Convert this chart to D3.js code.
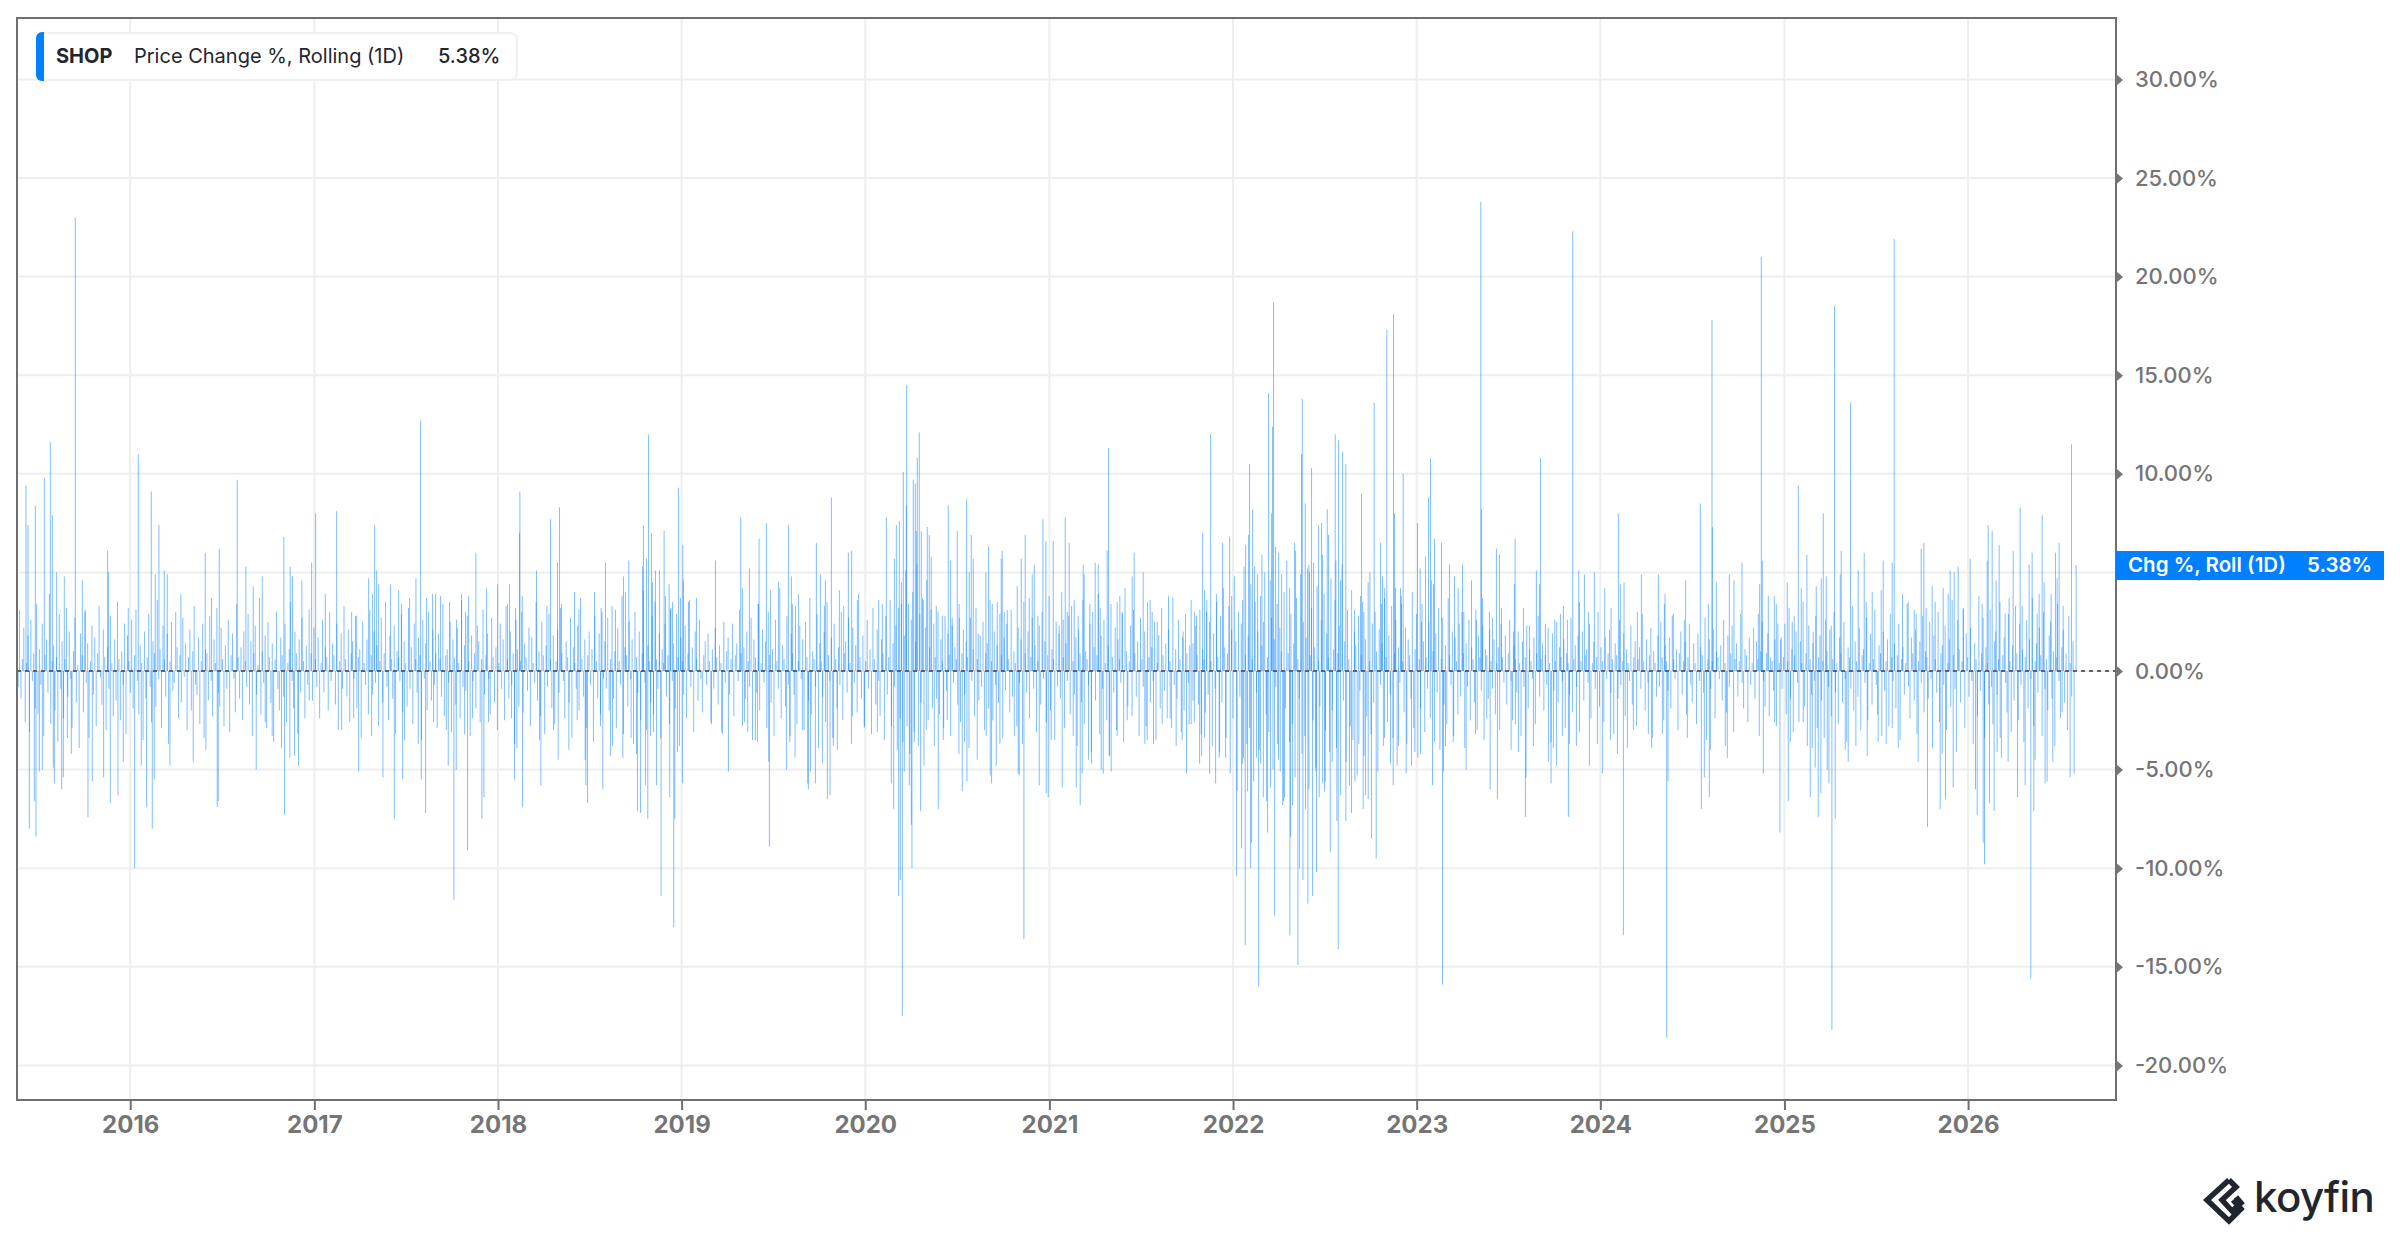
<!DOCTYPE html>
<html><head><meta charset="utf-8">
<script src="https://cdn.jsdelivr.net/npm/d3@7/dist/d3.min.js"></script>
<style>html,body{margin:0;padding:0;background:#fff}svg{display:block}text{font-family:Inter,"Noto Sans",sans-serif}</style>
</head><body><svg id="c" width="2400" height="1240"></svg>
<script>
const ticker="SHOP", seriesName="Price Change %, Rolling (1D)", lastLabel="5.38%", tagName="Chg %, Roll (1D)";
const yTicks=[-20,-15,-10,-5,0,5,10,15,20,25,30];
const spanUnits=900; // each reading span below is divided into 900 time units
const spanStarts=["2015-05-19","2016-12-24","2018-07-31","2020-03-06","2021-10-12","2023-05-19","2024-12-23"];
const spanEnds=["2017-01-04","2018-08-12","2020-03-18","2021-10-23","2023-05-31","2025-01-04","2026-08-11"];
// notable daily moves: [time unit within span, % change]
const peaks0=[[3,10.3],[30,9.4],[36,7.4],[58,8.4],[85,9.8],[103,11.6],[109,7.9],[122,5],[145,4.8],[178,23],[199,4.6],[208,3.1],[275,6.1],[278,5],[337,3.2],[367,11],[406,9.1],[418,4.9],[429,7.4],[445,5.1],[454,4.9],[495,3.9],[568,6],[587,3.7],[610,6.2],[664,9.7],[690,5.3],[712,4.3],[739,4.8],[804,6.8],[823,5.3],[830,4.8],[858,4.6],[3,-7.3],[40,-8],[55,-6.6],[60,-8.4],[70,-5.1],[79,-5],[112,-4.9],[115,-5.7],[137,-6],[142,-5.4],[154,-3.4],[166,-4.2],[216,-7.4],[229,-5.6],[263,-5.4],[283,-6.7],[306,-6.3],[322,-4.6],[356,-10],[376,-4.8],[392,-6.9],[409,-8],[415,-5.5],[462,-4.8],[532,-4.6],[570,-4],[604,-6.9],[607,-6.6],[721,-5],[748,-2.6],[769,-3.3],[797,-3.9],[806,-7.3],[822,-4.4],[836,-4.3],[848,-4.8],[880,-1.5]];
const peaks1=[[4,5.5],[16,8],[45,3.9],[79,8.1],[124,3],[139,2.8],[175,4.7],[187,3.9],[193,7.4],[199,5.1],[205,4.4],[241,4.4],[265,4.1],[274,3.4],[298,3.7],[317,4.7],[331,12.7],[349,3.7],[367,3.9],[376,3.9],[391,3.8],[418,3.5],[439,2.6],[454,3.9],[466,3],[475,3.8],[497,6],[529,4.2],[562,4.4],[592,3.4],[598,4.4],[616,3.2],[628,7],[629,9.1],[636,3.8],[679,5.1],[710,3.3],[721,7.7],[742,5.5],[748,8.3],[754,3.4],[793,4],[806,3.1],[853,4],[873,3.2],[94,-3],[130,-2.4],[145,-5.1],[184,-3.3],[218,-5.4],[252,-7.5],[277,-5.5],[283,-3.5],[324,-3.7],[333,-5.5],[346,-7.2],[370,-2.6],[408,-3],[414,-4.8],[431,-11.6],[438,-5],[463,-3.2],[472,-9.1],[487,-2.4],[515,-7.5],[521,-6.4],[535,-2.6],[604,-2.4],[613,-5.5],[620,-3.9],[637,-6.9],[688,-3.5],[692,-5.8],[730,-3],[744,-4.5],[776,-4],[801,-2.5],[825,-4.5],[827,-5.8],[832,-6.7],[871,-2.8],[878,-6]];
const peaks2=[[4,5.5],[34,3.1],[58,4.8],[64,4],[74,5.6],[115,5.3],[118,7.4],[127,5.7],[133,12],[142,7],[145,4.5],[154,5.1],[166,5.1],[180,7.1],[184,3.8],[195,4.4],[199,3.1],[205,3.5],[223,9.3],[229,3.7],[236,6.4],[238,4.6],[253,3.5],[277,3.7],[334,5.6],[410,7.8],[415,4.2],[436,5.2],[465,6.7],[463,3.4],[487,7.5],[499,4.1],[523,4.5],[553,7.4],[562,4.8],[565,3.4],[583,3.9],[637,6.5],[649,4.9],[664,4.6],[661,3.3],[682,8.8],[706,4.1],[719,3.3],[733,6],[743,6.1],[760,3.6],[824,3.6],[835,3.4],[847,7.8],[871,5.7],[877,7.4],[19,-4.3],[25,-3.8],[56,-4.4],[81,-3.4],[97,-4.2],[100,-7.1],[109,-7.2],[124,-5.8],[131,-7.5],[139,-3.3],[148,-3.1],[157,-5.8],[171,-11.4],[197,-6.4],[209,-13],[212,-7.5],[220,-4.1],[235,-5.7],[322,-2.7],[353,-3.1],[373,-5.1],[421,-2.6],[431,-3.1],[454,-3.5],[460,-3.6],[494,-4.6],[496,-8.9],[547,-5],[558,-3.3],[573,-4.4],[595,-3],[611,-5.7],[613,-6],[619,-5.1],[634,-5.7],[655,-4.7],[670,-6.5],[678,-6.3],[688,-3.8],[700,-4],[745,-2.3],[781,-2.8],[820,-3.1],[862,-5.7],[869,-7]];
const peaks3=[[4,7.6],[10,3.4],[16,10.1],[26,14.5],[25,8.4],[46,9.7],[52,9.5],[58,10.8],[64,12.1],[70,7.1],[55,7.1],[76,3.6],[88,7.3],[94,6.9],[100,5.8],[115,3.3],[133,2.8],[151,8.4],[158,5.6],[163,2.7],[178,7.1],[184,2.7],[206,8.7],[214,5],[220,6.9],[226,5.7],[241,1.9],[264,5],[272,6.3],[283,3.4],[298,3.5],[310,5.7],[313,6.1],[319,3],[328,3.1],[358,4.3],[370,5.7],[382,6.9],[394,3.7],[403,4.9],[409,5.4],[420,2.8],[435,7.7],[444,6.6],[466,6.6],[484,2.3],[496,2.6],[502,7.8],[508,3],[514,6.5],[529,3.6],[541,2.8],[556,5.4],[559,4.9],[576,3.4],[592,5.5],[601,5.4],[607,3.2],[628,6.1],[632,11.3],[658,3.5],[666,3.8],[673,3],[703,4.8],[709,6],[736,5],[757,3.6],[763,3],[778,2.5],[812,3.8],[856,2],[880,3.6],[2,-11.4],[7,-10.6],[13,-17.5],[19,-5.1],[34,-5.8],[40,-7.8],[42,-10],[49,-3.6],[68,-7.1],[85,-3],[109,-3.8],[121,-7],[136,-3.5],[148,-2.5],[183,-4.2],[193,-6.1],[200,-3.6],[207,-5.6],[238,-4.5],[265,-3.3],[277,-5.3],[281,-5.7],[295,-4.8],[306,-3.7],[349,-3.3],[361,-5.2],[364,-5.3],[378,-13.6],[424,-5.8],[445,-6.2],[451,-6.4],[460,-3.5],[493,-5.9],[526,-3.3],[535,-5.9],[547,-6.8],[553,-5.2],[572,-4.5],[581,-4.7],[610,-5],[616,-5.2],[634,-4.3],[640,-5.1],[658,-3.3],[688,-2.5],[741,-3.7],[748,-3.5],[767,-3.7],[793,-2.7],[817,-2.4],[835,-3.8],[853,-3.5],[866,-5.2],[874,-2.7]];
const peaks4=[[7,3],[13,2.8],[31,7],[37,4.1],[43,3],[55,12],[73,3.5],[91,6.5],[112,6.8],[118,3.8],[151,3.6],[160,6.4],[169,6.9],[172,10.5],[181,8.2],[187,5.3],[196,4.9],[209,5.9],[214,2.5],[229,14.1],[238,8],[241,12.4],[244,18.7],[250,6.3],[259,6],[268,4.9],[292,4.2],[307,6.5],[310,6.1],[328,11],[330,13.8],[339,8.5],[350,5.4],[352,5],[358,10.3],[364,5.5],[379,7.4],[388,7.5],[391,5.9],[405,8.2],[409,6.9],[429,12],[431,5.6],[439,11.7],[445,4.6],[451,11.1],[461,10.5],[487,3.1],[505,3.8],[508,9],[515,3],[533,5],[546,13.6],[565,6.5],[568,3.4],[571,4.8],[577,3.7],[584,17.3],[604,18.1],[607,8],[610,4.2],[625,4.2],[628,3.4],[633,10],[676,7.5],[684,5.2],[688,2.5],[700,5.8],[709,8.8],[715,10.8],[724,4.4],[727,6.7],[748,6.5],[772,5.4],[787,4.8],[798,4.2],[811,5.4],[815,3],[838,4.6],[853,2.6],[866,23.8],[868,8.2],[871,3.7],[2,-1.5],[22,-4.7],[28,-4.3],[37,-3.4],[52,-5.2],[70,-5.7],[82,-4.1],[100,-4.4],[133,-10.4],[148,-9],[154,-4.4],[159,-13.9],[166,-6.1],[175,-10],[178,-8.7],[193,-4.4],[199,-16],[205,-4.7],[226,-8.2],[223,-6.6],[235,-5.9],[247,-12.4],[256,-3.7],[264,-5.1],[274,-6.6],[277,-6.4],[293,-13.4],[295,-8.4],[301,-6.8],[317,-14.9],[322,-10],[332,-10.6],[340,-7],[347,-11.8],[361,-11.4],[373,-10.2],[371,-5.1],[381,-6.4],[397,-6.1],[399,-5.6],[414,-9.2],[420,-4.6],[438,-14.1],[434,-7.6],[461,-7.6],[472,-5.8],[478,-7.2],[488,-5.6],[500,-3.7],[513,-7],[520,-6.3],[528,-6.5],[538,-8.5],[552,-9.5],[577,-3.4],[595,-4.7],[603,-5.8],[619,-3.8],[642,-5.2],[658,-4.8],[668,-4.1],[685,-4.2],[721,-5.8],[751,-15.9],[754,-5.1],[760,-3.8],[783,-3.6],[822,-5],[850,-3.2]];
const peaks5=[[10,3],[19,2.7],[31,6.2],[40,5.9],[46,3.2],[82,2],[85,4.4],[87,6.7],[112,3.2],[130,2.3],[151,5.1],[160,4.4],[163,10.8],[178,2.4],[206,2.6],[223,2.9],[232,3.3],[244,2.6],[260,22.3],[278,5.1],[280,3.5],[295,4.9],[307,3],[325,5],[356,4.2],[375,3.2],[397,8],[403,4.4],[414,4.5],[454,3],[466,4.9],[517,4.9],[535,3.4],[537,3.9],[562,2.9],[595,2.6],[599,4.6],[643,8.5],[667,3.4],[678,17.8],[679,7.3],[691,4.5],[730,4.9],[744,4.6],[768,5.5],[817,2.9],[821,4.4],[826,21],[829,5.6],[847,3.8],[865,3.8],[871,3.4],[2,-2.4],[12,-6],[34,-6.5],[75,-4],[88,-2.7],[97,-4.1],[118,-7.4],[120,-5.4],[142,-3.8],[187,-4.6],[195,-5.7],[202,-3.9],[211,-4.8],[229,-3.3],[247,-7.4],[250,-3.7],[271,-3.8],[310,-4.8],[334,-3.7],[349,-5.2],[373,-3.5],[394,-4.2],[412,-13.4],[424,-3.9],[442,-3],[487,-3.2],[497,-3.9],[529,-3.2],[542,-18.6],[546,-5.6],[604,-3.4],[646,-7],[655,-5.4],[670,-6.4],[673,-4],[718,-3.8],[724,-4.4],[832,-5.2],[866,-2.6]];
const peaks6=[[4,1.7],[22,4.5],[37,2.5],[43,2.8],[55,9.4],[64,4.2],[81,5.9],[100,2],[109,4.3],[124,4.7],[130,8],[139,4.8],[154,2.3],[164,18.5],[181,4.9],[184,6.1],[212,13.6],[235,5.1],[253,6],[259,3.5],[277,4],[304,4.1],[310,5.6],[337,5.5],[343,21.9],[368,3.9],[385,3.5],[403,3.1],[409,2.9],[424,6.2],[432,6.5],[439,3.2],[457,4.3],[466,3.5],[490,4.2],[505,3.9],[511,5.1],[523,5],[535,5.3],[550,3.1],[571,5.7],[607,3.4],[622,5.6],[625,7.4],[637,7.1],[649,4.6],[658,6.4],[676,2.9],[688,3.7],[700,6.1],[721,8.3],[727,3.3],[748,5.4],[757,6],[772,2.9],[778,3.9],[787,7.9],[793,4.5],[814,3.9],[827,6],[832,4.7],[838,6.5],[850,3.3],[875,11.5],[889,5.38],[0,-8.2],[25,-6.6],[31,-3.6],[70,-2.6],[91,-6.4],[97,-3.9],[106,-4.9],[115,-7.4],[123,-6.2],[142,-5],[147,-5.7],[156,-18.2],[166,-7.5],[196,-4],[205,-4.6],[228,-3.8],[262,-4.3],[295,-3.6],[319,-3.7],[337,-2.9],[355,-3.9],[415,-4.6],[443,-7.9],[481,-7],[487,-4.2],[497,-6.5],[520,-5.9],[587,-6],[592,-7.3],[610,-8.7],[614,-9.8],[629,-6.7],[643,-7.1],[652,-4.1],[661,-3.4],[685,-4.6],[713,-6.4],[736,-5.8],[753,-15.6],[762,-7.1],[766,-4.5],[796,-5.7],[802,-5.6],[819,-4.6],[847,-2.1],[871,-5.4],[883,-5.2]];
// ordinary sessions, estimated in date order across each span
const body0=[1.2,-.8,3.1,-1.4,.6,2.2,-2.6,.4,1.8,-3.1,2.6,-.5,.9,-1.9,3.4,-2.2,1.1,-.7,2.4,-3.3,.8,1.6,-1.1,3.9,-2.7,.5,1.3,-2,.7,-3.6,2.9,-.9,1.5,-2.4,.6,3.2,-1.3,2,-.4,-2.9,1,2.7,-1.6,.3,-3.9,1.9,.8,-2.1,3,-.6,1.4,-3.4,.5,2.3,-1.2,1.7,-2.8,.9,3.3,-.3,-1.7,2.1,.7,-3,1.2,-.9,2.8,.4,-2.3,1.6,-1.5,3.5,.6,-2.5,1,-.7,2.4,-3.2,1.8,.5,-1.1,2.6,-1.9,.8,3.1,-.5,-2.2,1.3,.4,-3.5,2,-1.4,.7,2.9,-.8,-2.6,1.5,.9,-1.8,3.6,-.4,1.1,-2.9,2.3,.6,-1.3,1.9,-3.7,.5,2.5,-1,-.6,3,1.2,-2.4,.8,-1.6,2.7,-.3,1.4,-3,.7,2.1,-2,1,3.3,-.7,-1.2,1.7,-2.7,.5,2.4,-3.4,1.1,.9,-1.5,2.8,-.5,-2.3,1.6,.4,3.2,-1.1,-1.8,2.2,.6,-2.8,1.3,-.9,2.6,-3.1,.8,1.9,-.4,-2.1,3.4,.7,-1.4,1.2,-2.5,2,.5,-.8,2.9,-1.7,1.5,-3.3,.9,2.3,-1.2,.3,3.7,-2.2,1,-.6,1.8,-2.9,2.5,.7,-1.6,1.4,-3.6,.6,3,-.9,-2,1.7,.8,-1.3,2.4,-2.6,.4,1.1,3.5,-.5,-1.9,2,.9,-3.2,1.6,-1.1,2.7,.5,-2.4,1.3,-.7,3.1];
const body1=[.9,-1.5,2.2,.6,-.8,1.7,-2.4,.4,2.6,-1.1,1.2,.7,-2,3,-.5,1.4,.8,-1.7,2.4,-3,.5,1.9,-.9,3.3,.6,-1.3,2.1,-2.6,.9,1.5,-.4,2.8,-1.9,.7,1.1,-3.4,2.5,.4,-.7,1.6,-2.2,3.1,.8,-1.2,2,-.6,1.3,-2.8,.5,2.7,-1.6,.9,3.5,-.8,-2.5,1.8,.6,-1.4,2.3,-3.2,1,.7,-.5,2.9,-2.1,1.5,.4,-1.8,3.2,-.9,1.2,-2.7,2.4,.6,-1.1,1.7,.8,-3.5,2.6,-.4,1.4,-2,3,.5,-1.5,2.1,-.7,.9,-2.9,1.9,.6,-1.3,3.4,-2.3,.8,1.1,-.6,2.5,-3.1,1.6,.7,-1.7,2.2,.4,-2.4,3.6,-.8,1.3,-1,2.8,.5,-3.3,1.8,-.5,.9,-1.9,2.3,1.5,-2.6,.6,3.1,-1.2,.8,1.9,-.4,-2.2,2.7,.7,-1.6,1.2,-3,.4,2.4,-.9,1.6,-2.5,3.3,.6,-1.4,2,-.7,.9,-3.7,2.6,1.1,-1.8,.5,3,-2.1,1.4,.7,-1,2.2,-2.8,1.7,.4,-.6,3.5,-1.5,1,-2.3,2.5,.8,-3.2,1.3,-.8,2.9,.6,-1.9,1.8,-2.7,.5,2.1,-1.1,3.2,.9,-.5,-2.4,1.5,.7,-1.6,2.7,-3.4,1.2,.4,-.9,2.3,-2,3.7,.6,-1.3,1.6,-2.9,.8,2,-.7,1.1,-3.6,2.8,.5,-1.4,1.9,-2.2,3,-.4];
const body2=[1.5,-.9,2.7,-2,.6,3.3,-1.4,1,-2.9,2.2,.5,-.7,3.8,-3.2,1.2,.8,-1.8,2.5,-.4,1.6,-3.7,3,.7,-1.1,2,-2.5,.9,4.1,-.6,-3,1.3,.5,-1.6,2.8,-2.2,3.5,.6,-.9,1.9,-3.4,1.1,.4,2.4,-1.3,.8,-2.7,3.2,-.5,1.4,-1.9,2.9,.7,-3.8,1.7,.5,-1.2,2.3,-2.4,.9,3.6,-.8,1.2,-3.1,2,.6,-1.5,2.6,-.4,-2.1,.8,1.5,-.7,1.9,.5,-2.6,1.1,-.9,2.2,.7,-1.7,1.3,.4,-3.2,2.5,-.6,1,1.7,-1.2,.6,2.4,-2.3,.8,1.4,-.5,3.1,.9,-2.8,1.2,-1.4,2,.5,-.8,2.7,-3.5,1.6,.7,-1.1,3.4,-2,.4,2.1,-.6,1.5,-2.9,3,.8,-1.6,1.1,-3.3,2.6,.5,-.9,4.2,-2.4,1.3,.6,-1.8,2.8,-.7,-3.6,1.9,.9,-1.2,3.3,-2.7,.5,2.3,-.4,1.6,-3,2.5,.7,-1.5,3.7,-2.2,1,.6,-.8,2.9,-3.9,1.4,.5,-1.3,2,-2.6,3.5,.8,-.5,1.7,-3.4,2.4,.6,-1.9,1.2,-.7,3,-2.5,.9,1.5,-1.1,2.7,.4,-3.7,2.2,-.6,1.3,-2.1,3.9,.7,-1.4,1.8,-2.9,.5,2.6,-.9,1.1,-3.2,3.2,.6,-1.7,2.1,-.5,-2.3,1.6,.9,-3.5,2.8,-1.2,.7,3.6,-2.8,1.4,-.8,2.3,-4];
const body3=[3.2,-2.4,4.5,-3.6,1.8,5.1,-2.8,3.4,-4.2,2.6,4,-3.1,1.5,5.4,-3.8,2.9,-1.6,3.7,-4.8,2.2,4.6,-2.5,1.2,3.1,-1.9,2.4,.7,-1.4,3,-2.2,1.6,.5,-2.9,2.8,-1,1.9,.8,-3.3,2.3,-.6,1.2,.6,-1.7,3.4,-2.6,.9,2.1,-1.2,1.5,.7,-3.9,2.7,-.5,1.1,-2.3,3.2,.6,-1.5,1.8,-.8,2.5,-3,.9,1.4,-1.9,3.6,.5,-2.5,2,-.7,1.3,-1.6,2.9,.8,-3.4,1.7,-1,2.4,.6,-2.1,3.1,-1.3,1,.4,-2.8,2.2,-.6,1.6,-3.7,3.5,.9,-1.1,2,-2.4,.7,2.7,-.9,1.3,-3.1,.5,2.3,-1.7,3,-.4,1.5,-2.6,.8,3.8,-2,1.1,.6,-3.5,2.5,-.8,1.9,-1.4,4,.7,-2.9,1.4,-.5,2.8,-2.2,3.3,.5,-1.2,1.7,-3.8,2.1,.9,-1.6,3.6,-2.7,1,.6,-.7,2.4,-4.1,3,1.2,-1.5,.8,3.9,-3.2,1.8,-.9,2.6,.4,-2.5,1.3,-4.3,3.4,.7,-1.1,2.2,-3,1.6,.6,-.6,2.9,-3.6,4.2,1,-1.8,.5,2.3,-2.3,3.1,.9,-1.3,1.5,-3.3,2.7,.6,-.8,2,-2.8,3.5,.7,-1.6,1.2,-.5,2.5,-3.5,.4,1.8,-1.9,3.2,.8,-1,1.4,-2.4,2.1,.5,-2.9,3.7,-.7,1.1,-1.4,2.6,.6,-3.1,1.7,-2,2.9,.9,-.6,1.3,-2.7];
const body4=[1.4,-2.6,2.3,.8,-1.7,3.1,-3.2,1.1,.6,-2.1,3.6,-1.2,2.5,.5,-3.8,1.9,-.9,3.9,.7,-4.4,2.8,-1.6,4.2,1.2,-3.4,.9,3.3,-5.2,2.1,-2.4,4.8,1.5,-6.1,3,-1.3,2.4,-4.7,5.3,.8,-3.7,1.8,-2.9,4.4,.6,-5.6,3.5,-1.1,2,-4,3.8,1.3,-6.4,5,-2.2,.7,-3.1,4.6,2.7,-5,1.6,-.8,3.4,-4.5,2.2,1,-6.8,4,-1.9,5.6,.9,-3.6,2.9,-2.7,1.4,-5.4,3.7,.6,-1.4,4.9,-4.2,2.5,-3.3,1.7,5.2,-6,.8,3.2,-2.5,1.2,-4.9,4.3,.5,-1.8,2.6,-5.7,3.9,-3,1.9,.7,-4.1,4.7,-2,1.1,3.6,-3.9,.9,2.3,-6.3,5.4,-1.5,1.5,-4.6,3.1,.6,-2.8,4.1,-3.5,2,1.3,-5.3,2.8,-1,.8,3.5,-4.3,1.6,-2.3,4.5,.5,-3.2,2.4,-1.6,3,1,-5.1,2.1,-.7,1.4,-3.8,4.2,.7,-2.6,1.8,-1.2,3.3,-3.4,.9,2.6,-4.8,1.2,-.6,3.8,.5,-2.1,2.2,-3.7,1.6,.8,-1.4,4,-2.9,1.1,2.9,-4.4,.6,-1.9,3.4,1.5,-3.1,.7,-.9,2.5,-2.4,4.6,1,-3.6,1.9,-1.1,3.2,-4,.6,2.7,-1.7,1.3,-2.7,3.7,.8,-.7,2,-3.3,1.7,.5,-2.2,2.4,-1.3,3,.9,-3.9,1.4,-.8,2.6,-2.5,1.2,.6,-1.6,3.1,-3,1.8,.7,-1,2.3,-3.5,1.1];
const body5=[.8,-1.4,2.1,.5,-.9,1.6,-2.2,.4,1.2,-3,2.4,.7,-.6,1.8,-1.7,.9,2.6,-.5,-2.5,1.3,.6,-1.1,2,.4,-3.3,1.5,-.8,.7,2.3,-1.9,1.1,.5,-.4,1.7,-2.7,.9,2.8,-1.3,.6,1.4,-2,.8,-.7,2.2,.4,-3.6,1.9,-1,.5,2.5,-1.6,1.2,.7,-.5,1.6,-2.9,.9,.4,-1.2,2.7,-2.1,.6,1.3,-.8,1.8,-3.1,.5,2,-1.5,.8,1.1,-.6,2.4,-2.4,.4,1.5,-.9,.7,3,-1.8,1.2,.5,-2.6,1.7,-.4,.9,2.1,-1.1,.6,-3.2,1.4,.8,-1.4,2.6,-.7,.5,1.9,-2.3,1.1,.4,-.5,2.3,-1.7,.7,1.5,-2.8,.6,1.2,-.9,2.9,.5,-2,1.6,-.6,.8,2.2,-3.4,1,.4,-1.3,1.8,-.8,2.5,.7,-2.5,1.3,.5,-1,1.7,-1.9,2.8,.6,-.4,1.1,-3,.9,2,-1.2,.5,1.5,-2.2,.7,2.4,-.7,-1.6,1.4,.4,-2.7,1.9,-.5,1.2,.8,-1.1,2.7,-3.5,.6,1.6,-.9,.5,2.1,-2.4,1,.7,-.4,1.3,-1.5,2.6,.4,-2.1,1.8,-.8,.9,2.3,-3.1,.6,1.4,-1.3,.5,2.9,-.6,-1.9,1.1,.8,-2.6,1.7,-.7,.4,2.2,-1.4,1.5,.6,-3.3,1,2.5,-.5,-1.8,.9,1.9,-2.3,.7,.5,-1,1.6,-2.8,2.4,.4];
const body6=[1.6,-.9,.7,2.4,-2.2,.5,3.2,-1.4,1.1,-3.1,.8,2,-.6,-2.6,1.5,.4,3.5,-1.8,.9,-3.8,2.3,.6,-1.2,1.4,-.5,2.8,-2.9,.7,1.8,-1.5,.5,-3.4,2.6,1,-.8,2.1,-2.3,.6,3,-1.1,.4,-2.7,1.7,.9,-1.6,2.5,-.4,-3.6,1.2,.7,-.9,3.3,-2,1.5,.5,-1.3,2.2,-3,.8,1.1,-.6,2.7,-2.5,.4,1.9,-1.7,.6,3.1,-.7,-2.2,1.3,.9,-3.3,2,-1,.5,1.6,-2.8,2.9,.7,-.5,1.4,-1.9,.8,2.4,-3.5,.6,1.2,-1.2,.4,3.4,-.8,-2.4,1.7,.9,-1.5,2.1,-3.2,.5,1.5,-.6,2.8,-2.1,1,.7,-1.4,2.5,-.4,-3.9,1.8,.6,-1.1,3,-2.6,.9,1.3,-.7,2.3,-3,.4,1.6,-1.8,3.6,.8,-.9,-4.1,2.6,1.1,-1.6,.5,3.2,-2.9,1.9,.7,-1.3,2.2,-.5,-3.7,1.4,.6,-2.3,3.8,-1,.9,2.7,-3.4,1.2,.4,-1.7,3.1,-.8,-2.7,1.5,2,-1.2,.6,3.5,-4.4,.8,1.7,-.6,-2.1,2.9,.5,-3.1,1.3,-1.5,3.3,.9,-2.5,2.4,-.7,1.1,-3.6,.7,2.6,-1.9,1.6,-.4,3.7,-2.8,.5,1.4,-1.1,2.2,.8,-3.3,3,-.9,.6,-2,1.8,2.5,-1.4,1,-3.8,.7,3.4,-.5,-2.4,1.2,2.1,-1.6,.9,-3,2.8,.4,-1.3,1.5];
const allPeaks=[peaks0,peaks1,peaks2,peaks3,peaks4,peaks5,peaks6];
const allBody=[body0,body1,body2,body3,body4,body5,body6];

const parse=d3.utcParse("%Y-%m-%d");
const starts=spanStarts.map(parse), ends=spanEnds.map(parse);
const x=d3.scaleUtc().domain([parse("2015-05-21"),parse("2026-10-22")]).range([17,2116]);
const y=d3.scaleLinear().domain([0,5]).range([671,572.4]);
const L=17,R=2116,T=18,B=1100;
const svg=d3.select("#c");
const at=(s,u)=>new Date(+starts[s]+(ends[s]-starts[s])*u/spanUnits);
const bars=[];
allBody.forEach((b,s)=>b.forEach((v,i)=>bars.push({d:at(s,(i+.5)/b.length*882),v})));
allPeaks.forEach((p,s)=>p.forEach(([u,v])=>bars.push({d:at(s,u),v})));
const years=d3.utcYear.range(parse("2016-01-01"),parse("2027-01-01"));

svg.append("defs").append("clipPath").attr("id","plot").append("rect").attr("x",L).attr("y",T).attr("width",R-L).attr("height",B-T);
const grid=svg.append("g").attr("stroke","#eeeeee").attr("stroke-width",2);
grid.selectAll(".h").data(yTicks).join("line").attr("x1",L).attr("x2",R).attr("y1",y).attr("y2",y);
grid.selectAll(".v").data(years).join("line").attr("x1",x).attr("x2",x).attr("y1",T).attr("y2",B);

svg.append("g").attr("clip-path","url(#plot)").attr("fill","#007fff").attr("fill-opacity",.5)
 .selectAll("rect").data(bars).join("rect")
 .attr("x",d=>x(d.d)-.5).attr("width",1)
 .attr("y",d=>y(Math.max(d.v,0))).attr("height",d=>Math.abs(y(d.v)-y(0)));

svg.append("line").attr("x1",L).attr("x2",R).attr("y1",y(0)).attr("y2",y(0))
 .attr("stroke","#5f6368").attr("stroke-width",2).attr("stroke-dasharray","4 4");

svg.append("rect").attr("x",L).attr("y",T).attr("width",R-L).attr("height",B-T).attr("fill","none").attr("stroke","#6f6f6f").attr("stroke-width",2);

// y axis
const yAxis=svg.append("g").attr("transform",`translate(${R},0)`)
 .call(d3.axisRight(y).tickValues(yTicks).tickSize(0).tickPadding(19).tickFormat(d=>d.toFixed(2)+"%"));
yAxis.select(".domain").remove();
yAxis.selectAll("text").attr("fill","#757575").attr("font-size",22).attr("font-weight",500);
yAxis.selectAll(".tick").append("path").attr("d","M0,-6L7,0L0,6Z").attr("fill","#757575");

// x axis
const xAxis=svg.append("g").attr("transform",`translate(0,${B})`)
 .call(d3.axisBottom(x).tickValues(years.slice(0,11)).tickSize(10).tickPadding(6).tickFormat(d3.utcFormat("%Y")));
xAxis.select(".domain").remove();
xAxis.selectAll("line").attr("stroke","#6f6f6f").attr("stroke-width",2);
xAxis.selectAll("text").attr("fill","#757575").attr("font-size",24).attr("font-weight",700);

// legend
const lg=svg.append("g");
lg.append("rect").attr("x",37).attr("y",33).attr("width",480).attr("height",47).attr("rx",7).attr("fill","#fff").attr("stroke","#f0f0f0").attr("stroke-width",2);
lg.append("path").attr("d","M44,32H42a6,6 0 0 0 -6,6V75a6,6 0 0 0 6,6H44Z").attr("fill","#007fff");
const lt=(s,xp,w)=>lg.append("text").attr("x",xp).attr("y",56).attr("dy",".36em").attr("font-size",20).attr("font-weight",w).attr("fill","#1f2630").text(s);
lt(ticker,56,700); lt(seriesName,134,400); lt(lastLabel,438,500);

// last value tag
svg.append("rect").attr("x",R).attr("y",551).attr("width",268).attr("height",29).attr("fill","#007fff");
const tg=(s,xp)=>svg.append("text").attr("x",xp).attr("y",565).attr("dy",".36em").attr("font-size",20.5).attr("font-weight",600).attr("fill","#fff").text(s);
tg(tagName,2128); tg(lastLabel,2307);

// brand
const mark=svg.append("g").attr("fill","none").attr("stroke","#1f2630").attr("stroke-width",5.5).attr("stroke-linejoin","miter");
mark.append("polyline").attr("points","2229,1180 2207,1200 2229,1221 2241,1209 2233,1200");
mark.append("polyline").attr("points","2229,1180 2236,1187 2222,1200 2232,1211 2241,1203 2236,1197");
svg.append("text").attr("x",2254).attr("y",1212).attr("font-size",42).attr("font-weight",500).attr("letter-spacing",-.6).attr("fill","#1f2630").text("koyfin");
</script></body></html>
